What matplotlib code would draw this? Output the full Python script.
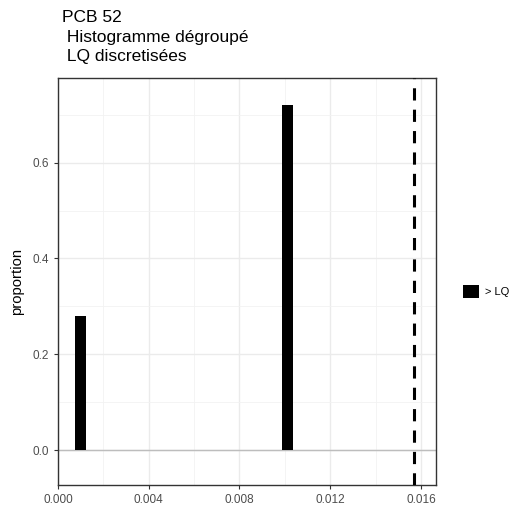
import numpy as np
import matplotlib
matplotlib.use("Agg")
import matplotlib.pyplot as plt
from matplotlib.patches import Patch

plt.rcParams['font.family'] = ['Liberation Sans', 'DejaVu Sans']

# données
centres = [0.00099, 0.01012]
proportions = [0.28, 0.72]
largeur = 0.00048
lq = 0.01569
titre = "PCB 52\n Histogramme dégroupé\n LQ discretisées"

fig = plt.figure(figsize=(5.3, 5.09), dpi=100)
ax = fig.add_axes([0.1094, 0.0472, 0.7132, 0.7996])

ax.set_xlim(0, 0.01666)
ax.set_ylim(-0.073, 0.777)

ax.set_xticks(np.arange(0, 0.0161, 0.004))
ax.set_xticks(np.arange(0.002, 0.0161, 0.004), minor=True)
ax.set_yticks([0.0, 0.2, 0.4, 0.6])
ax.set_yticks([0.1, 0.3, 0.5, 0.7], minor=True)
ax.set_xticklabels(["0.000", "0.004", "0.008", "0.012", "0.016"])
ax.set_yticklabels(["0.0", "0.2", "0.4", "0.6"])

ax.grid(which="major", color="#ebebeb", lw=1.0)
ax.grid(which="minor", color="#f2f2f2", lw=0.6)
ax.set_axisbelow(True)

ax.axhline(0, color="#bdbdbd", lw=1.0, zorder=1)
ax.bar(centres, proportions, width=largeur, color="black", zorder=2)
ax.axvline(lq, color="black", lw=2.2, ls=(0, (4, 3)), zorder=3)

for s in ax.spines.values():
    s.set_color("#333333")
    s.set_linewidth(1.0)
ax.tick_params(which="major", colors="#333333", labelcolor="#4d4d4d",
               labelsize=8.5, length=3, width=0.8)
ax.tick_params(which="minor", length=0)

ax.set_ylabel("proportion", fontsize=10.7, color="black", labelpad=6)

fig.text(62 / 530, 1 - 10 / 509, titre, fontsize=12.5, ha="left", va="top",
         linespacing=1.38)

fig.legend(handles=[Patch(facecolor="black", label="> LQ")],
           loc="center left", bbox_to_anchor=(0.855, 0.428), frameon=False,
           fontsize=8, handlelength=1.45, handleheight=1.45, handletextpad=0.55)

fig.savefig("out.png", dpi=100)
